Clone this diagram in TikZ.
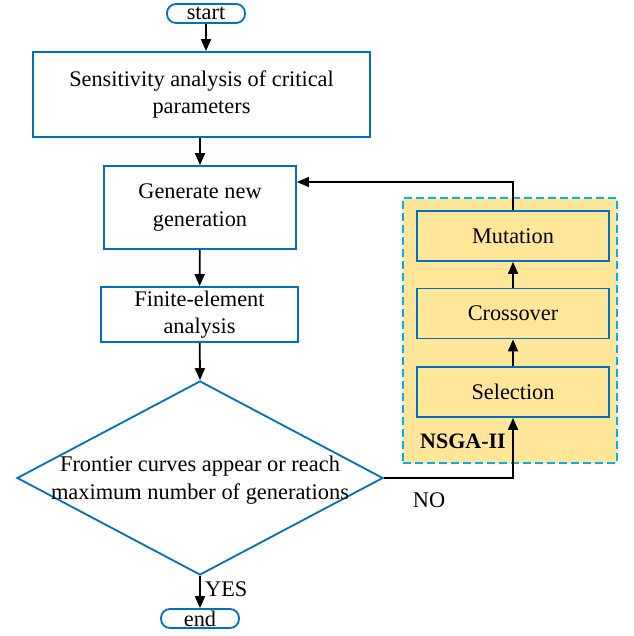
\documentclass[tikz,border=0pt]{standalone}
\usepackage{fontspec}
\setmainfont{Liberation Serif}
\usetikzlibrary{arrows.meta,shapes.geometric}
\definecolor{boxblue}{HTML}{0070C0}
\definecolor{nsgafill}{HTML}{FFE699}
\definecolor{nsgadash}{HTML}{00B0F0}
\begin{document}
\begin{tikzpicture}[x=1pt,y=-1pt,
  every node/.style={font=\fontsize{22.3}{27.5}\selectfont},
  procbox/.style={draw=boxblue,line width=1.8pt,align=center,inner sep=0pt},
  term/.style={draw=boxblue,line width=1.8pt,rounded corners=9pt,inner sep=0pt,minimum width=78pt,minimum height=19pt},
  gabox/.style={procbox,fill=nsgafill,minimum width=192pt,minimum height=50pt},
  flow/.style={line width=1.8pt,-{Triangle[length=12pt,width=10pt]}},
  lbl/.style={inner sep=0pt}]
\useasboundingbox (0,0) rectangle (633,636);
% NSGA background
\node[draw=nsgadash,fill=nsgafill,dashed,line width=1.5pt,dash pattern=on 8pt off 4pt,minimum width=214pt,minimum height=265pt,inner sep=0pt] (nsga) at (510,330.5) {};
\node[lbl,font=\fontsize{22}{26}\bfseries\selectfont] (nsgalbl) at (463,441) {NSGA-II};

\node[term] (start) at (206,13.5) {start};
\node[procbox,minimum width=337pt,minimum height=85pt] (sens) at (201.5,94.5) {Sensitivity analysis of critical\\parameters};
\node[procbox,minimum width=192pt,minimum height=83pt] (gen) at (200,207.5) {Generate new\\generation};
\node[procbox,minimum width=197pt,minimum height=55pt] (fea) at (199.5,314.5) {Finite-element\\analysis};
\node[draw=boxblue,line width=1.8pt,diamond,minimum width=366pt,minimum height=194pt,inner sep=0pt] (dec) at (200,478) {};
\node[lbl,align=center,font=\fontsize{22.4}{28}\selectfont] (dectxt) at (200,480) {Frontier curves appear or reach\\maximum number of generations};
\node[term] (end) at (200,618.5) {end};

\node[gabox] (mut) at (513,236) {Mutation};
\node[gabox] (cro) at (513,313.5) {Crossover};
\node[gabox] (sel) at (513,392) {Selection};

\draw[flow] (start) -- (start |- sens.north);
\draw[flow] (sens.south -| gen.north) -- (gen.north);
\draw[flow] (gen) -- (fea);
\draw[flow] (fea) -- (dec.north);
\draw[flow] (dec.south) -- (end);
\node[lbl,anchor=west] (yes) at (205,589) {YES};
\coordinate (nocorner) at (513,478);
\draw[flow] (dec.east) -- (nocorner) -- (sel.south);
\node[lbl] (no) at (429,500) {NO};
\draw[flow] (sel) -- (cro);
\draw[flow] (cro) -- (mut);
\coordinate (fbcorner) at (513,182);
\draw[line width=1.3pt,-{Triangle[length=12pt,width=10pt]}] (mut.north) -- (fbcorner) -- (fbcorner -| gen.east);
\end{tikzpicture}
\end{document}
